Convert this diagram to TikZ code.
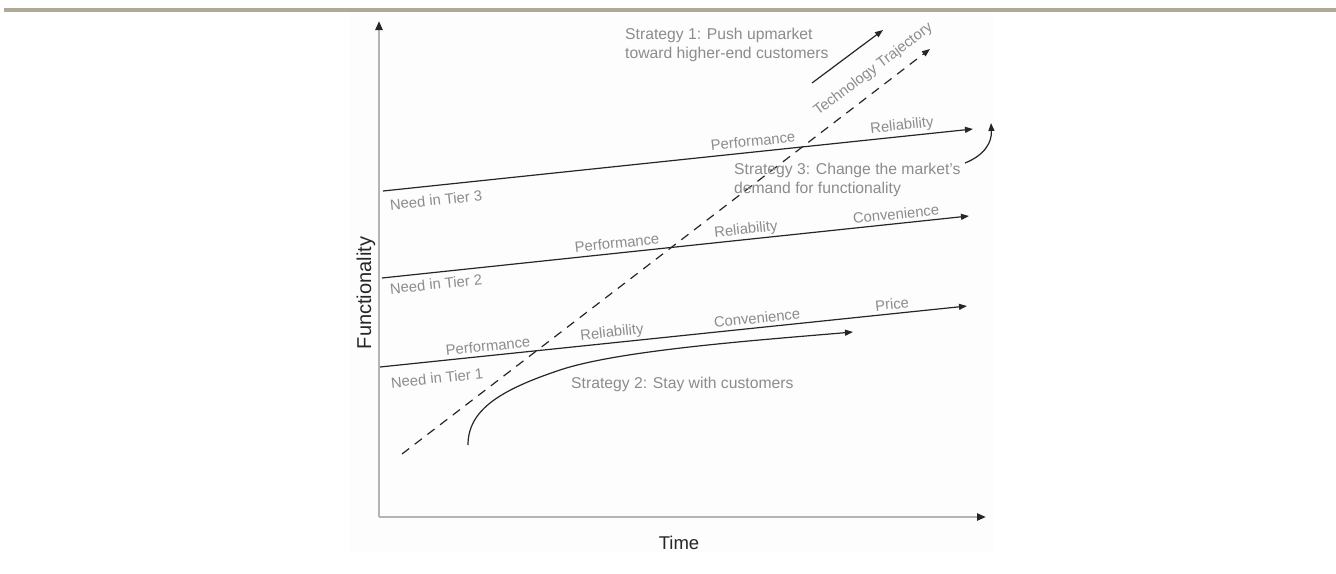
\documentclass[tikz,border=0pt]{standalone}
\usepackage{fontspec}
\setmainfont{Liberation Sans}
\usetikzlibrary{arrows.meta}
\definecolor{txt}{HTML}{8C8C8C}
\definecolor{ln}{HTML}{262626}
\definecolor{axisc}{HTML}{B4B4B4}
\definecolor{barc}{HTML}{AEAA96}
\definecolor{panel}{HTML}{FDFDFD}
\begin{document}
\begin{tikzpicture}[x=1pt,y=-1pt,
  lbl/.style={text=txt, font=\fontsize{14.8}{17}\selectfont, inner sep=0pt, rotate=6},
  strat/.style={text=txt, font=\fontsize{15.7}{19}\selectfont, inner sep=0pt, align=left, anchor=west},
  axlbl/.style={text=black!85, inner sep=0pt},
  conn/.style={draw=ln, line width=1.2pt, -{Triangle[length=8pt,width=6pt]}},
  axisline/.style={draw=axisc, line width=2.4pt, -{Triangle[length=9pt,width=7pt,color=ln]}},
  traj/.style={draw=ln, line width=1.2pt, dash pattern=on 9pt off 7pt, -{Triangle[length=8pt,width=6pt]}}
]
\useasboundingbox (0,0) rectangle (1336,573);
\fill[white] (0,0) rectangle (1336,573);
\fill[barc] (4,8) rectangle (1336,12);
\fill[panel] (349,13) rectangle (993,552);

% axes
\coordinate (O) at (379,517);
\coordinate (ytop) at (379,21);
\coordinate (xend) at (986,517);
\draw[axisline] (O) -- (ytop);
\draw[axisline] (O) -- (xend);
\node[axlbl, rotate=90, font=\fontsize{20}{22}\selectfont] (fn) at (366,293) {Functionality};
\node[axlbl, font=\fontsize{18.5}{21}\selectfont] (time) at (679,543) {Time};

% tier lines
\coordinate (t3s) at (383,191); \coordinate (t3e) at (973,129);
\coordinate (t2s) at (382,278); \coordinate (t2e) at (969,216);
\coordinate (t1s) at (380,367); \coordinate (t1e) at (967,306);
\draw[conn] (t3s) -- (t3e);
\draw[conn] (t2s) -- (t2e);
\draw[conn] (t1s) -- (t1e);

% tier labels
\node[lbl] (n3) at (436,200) {Need in Tier 3};
\node[lbl] (p3) at (753,141) {Performance};
\node[lbl] (r3) at (902,126) {Reliability};
\node[lbl] (n2) at (436,284) {Need in Tier 2};
\node[lbl] (p2) at (617,243) {Performance};
\node[lbl] (r2) at (746,230) {Reliability};
\node[lbl] (c2) at (896,214) {Convenience};
\node[lbl] (n1) at (437,378) {Need in Tier 1};
\node[lbl] (p1) at (488,346) {Performance};
\node[lbl] (r1) at (612,333) {Reliability};
\node[lbl] (c1) at (757,318) {Convenience};
\node[lbl] (pr1) at (892,304) {Price};

% technology trajectory
\coordinate (tts) at (402,454);
\coordinate (tte) at (930,49);
\draw[traj] (tts) -- (tte);
\node[text=txt, font=\fontsize{14.8}{17}\selectfont, inner sep=0pt, rotate=37] (tt) at (873.5,69.5) {Technology Trajectory};

% strategy 1
\node[strat] (s1) at (625,44.5) {Strategy 1: Push upmarket\\toward higher-end customers};
\coordinate (s1a) at (812,83);
\coordinate (s1b) at (883,30);
\draw[conn] (s1a) -- (s1b);

% strategy 2
\node[strat] (s2) at (571,384) {Strategy 2: Stay with customers};
\coordinate (s2a) at (468,445);
\coordinate (s2m) at (560,370);
\coordinate (s2b) at (853,332);
\draw[conn] (s2a) .. controls (468,410) and (500,390) .. (s2m) .. controls (620,350) and (760,340) .. (s2b);

% strategy 3
\node[strat] (s3) at (734,180) {Strategy 3: Change the market's\\demand for functionality};
\coordinate (s3a) at (965,163);
\coordinate (s3b) at (991,123);
\draw[conn] (s3a) .. controls (985,155) and (992,142) .. (s3b);
\end{tikzpicture}
\end{document}
